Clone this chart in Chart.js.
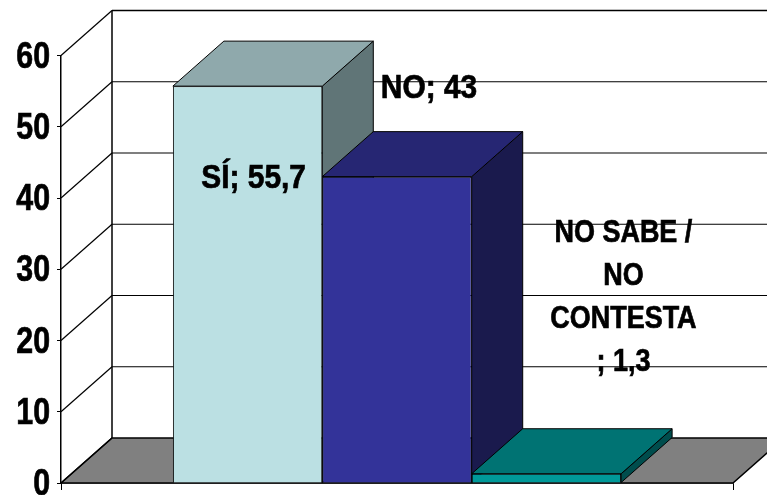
<!DOCTYPE html>
<html><head><meta charset="utf-8">
<style>html,body{margin:0;padding:0;background:#fff}canvas{display:block}</style>
<script src="https://cdn.jsdelivr.net/npm/chart.js@4/dist/chart.umd.min.js"></script>
</head><body>
<canvas id="c" width="767" height="495" style="width:767px;height:495px"></canvas>
<script>
const categories = [''];
const seriesNames = ['SÍ', 'NO', 'NO SABE / NO CONTESTA'];
const seriesValues = [55.7, 43, 1.3];
const frontColors = ['#BBE0E3', '#333399', '#009999'];
const topColors = ['#8FA9AC', '#262673', '#007373'];
const sideColors = ['#607577', '#1A1A4D', '#004D4D'];
const labelLines = [['SÍ; 55,7'], ['NO; 43'], ['NO SABE /', 'NO', 'CONTESTA', '; 1,3']];

const FONT = '"Liberation Sans",Arial,sans-serif';
const DX = 51, DY = -45;

function poly(ctx, pts, fill, lw) {
  ctx.beginPath();
  pts.forEach((p, i) => i ? ctx.lineTo(p[0], p[1]) : ctx.moveTo(p[0], p[1]));
  ctx.closePath();
  if (fill) { ctx.fillStyle = fill; ctx.fill(); }
  ctx.lineWidth = lw || 1; ctx.strokeStyle = '#000'; ctx.stroke();
}
function line(ctx, x1, y1, x2, y2, lw) {
  ctx.beginPath(); ctx.moveTo(x1, y1); ctx.lineTo(x2, y2);
  ctx.lineWidth = lw || 1; ctx.strokeStyle = '#000'; ctx.stroke();
}
function narrowText(ctx, s, x, y, k) {
  ctx.save();
  ctx.translate(x, y);
  ctx.scale(k, 1);
  ctx.lineWidth = 0.7;
  ctx.strokeStyle = '#000';
  ctx.strokeText(s, 0, 0);
  ctx.fillText(s, 0, 0);
  ctx.restore();
}

const box3d = {
  id: 'box3d',
  beforeDatasetsDraw(chart) {
    const { ctx, scales: { y }, chartArea: a } = chart;
    ctx.save();
    const y0 = y.getPixelForValue(0);
    poly(ctx, [[a.left, y0], [a.right, y0], [a.right + DX, y0 + DY], [a.left + DX, y0 + DY]], '#808080', 1.5);
    y.ticks.forEach(t => {
      const p = y.getPixelForValue(t.value);
      line(ctx, a.left, p, a.left + DX, p + DY, 1.2);
      if (t.value > 0) line(ctx, a.left + DX, p + DY, chart.width, p + DY, t.value === 60 ? 1.6 : 1.2);
    });
    line(ctx, a.left + DX, y.getPixelForValue(60) + DY, a.left + DX, y0 + DY, 1.5);
    chart.data.datasets.forEach((ds, i) => {
      const el = chart.getDatasetMeta(i).data[0];
      const l = el.x - el.width / 2, r = el.x + el.width / 2, t = el.y, b = el.base;
      poly(ctx, [[r, t], [r + DX, t + DY], [r + DX, b + DY], [r, b]], sideColors[i]);
      poly(ctx, [[l, t], [r, t], [r + DX, t + DY], [l + DX, t + DY]], topColors[i]);
    });
    ctx.restore();
  },
  afterDatasetsDraw(chart) {
    const { ctx, scales: { y } } = chart;
    // [x offset, y offset, font size, horizontal squeeze] for each bar's label
    const styles = [[6, 92, 34, 0.88], [32, -88.5, 34, 0.88], [77, -240, 31, 0.87]];
    ctx.save();
    ctx.fillStyle = '#000';
    ctx.textBaseline = 'middle';
    ctx.textAlign = 'center';
    labelLines.forEach((lines, i) => {
      const el = chart.getDatasetMeta(i).data[0];
      const st = styles[i];
      ctx.font = 'bold ' + st[2] + 'px ' + FONT;
      lines.forEach((s, k) => {
        narrowText(ctx, s, el.x + st[0], el.y + st[1] + k * 43, st[3]);
      });
    });
    ctx.textAlign = 'right';
    ctx.font = 'bold 37px ' + FONT;
    y.ticks.forEach(t => narrowText(ctx, t.label, 50, y.getPixelForValue(t.value) + 2, 0.82));
    ctx.restore();
  }
};

new Chart(document.getElementById('c'), {
  type: 'bar',
  data: {
    labels: categories,
    datasets: seriesNames.map((n, i) => ({
      label: n, data: [seriesValues[i]],
      backgroundColor: frontColors[i], borderColor: '#000', borderWidth: 1,
      barPercentage: 1, categoryPercentage: 0.667
    }))
  },
  options: {
    responsive: false, animation: false,
    layout: { padding: { left: 0, right: 34, top: 55.5, bottom: 0 } },
    plugins: { legend: { display: false }, tooltip: { enabled: false } },
    scales: {
      x: {
        grid: { drawOnChartArea: false, tickLength: 7, color: '#000', offset: true },
        border: { color: '#000', width: 1.5 },
        ticks: { display: false },
        afterFit(s) { s.height = 12; }
      },
      y: {
        min: 0, max: 60,
        ticks: { stepSize: 10, display: false },
        grid: { drawOnChartArea: false, tickLength: 4, color: '#000' },
        border: { color: '#000', width: 1.5 },
        afterFit(s) { s.width = 61; }
      }
    }
  },
  plugins: [box3d]
});
</script>
</body></html>
